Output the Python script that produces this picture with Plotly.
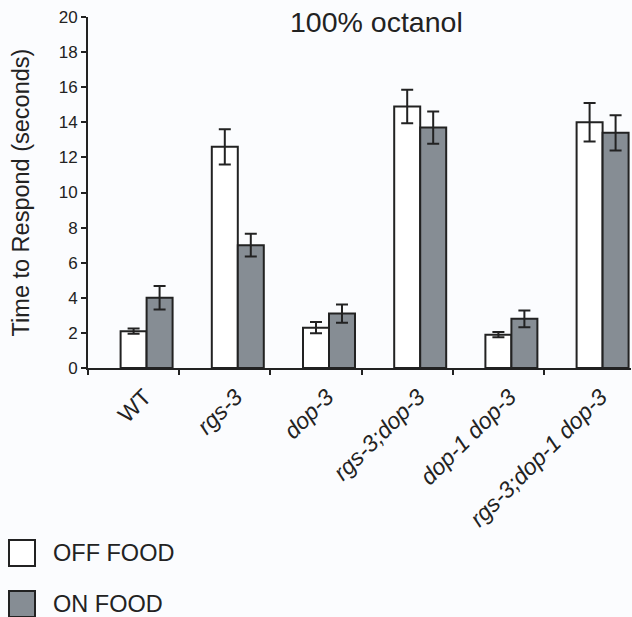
import plotly.graph_objects as go
import numpy as np

# ---- data ----
categories = ["WT", "rgs-3", "dop-3", "rgs-3;dop-3", "dop-1 dop-3", "rgs-3;dop-1 dop-3"]
tick_labels = ["WT", "<i>rgs-3</i>", "<i>dop-3</i>", "<i>rgs-3;dop-3</i>",
               "<i>dop-1 dop-3</i>", "<i>rgs-3;dop-1 dop-3</i>"]
off_food = [2.1, 12.6, 2.3, 14.9, 1.9, 14.0]
off_food_err = [0.15, 1.0, 0.32, 0.95, 0.15, 1.1]
on_food = [4.0, 7.0, 3.1, 13.7, 2.8, 13.4]
on_food_err = [0.67, 0.65, 0.52, 0.92, 0.48, 1.0]
y_ticks = [0, 2, 4, 6, 8, 10, 12, 14, 16, 18, 20]

W, H = 632, 617
ML, MR, MT, MB = 88, 1, 17, 249
PW, PH = W - ML - MR, H - MT - MB

def px_x(p):
    return (p - ML) / PW

def px_y(p):
    return (H - MB - p) / PH

FONT = "Liberation Sans, Arial, sans-serif"
INK = "#222222"
GRAY = "#868d94"
BG = "#fbfcfe"

xpos = np.arange(len(categories))
bw = 0.285

fig = go.Figure()
fig.add_trace(go.Bar(
    x=xpos, y=off_food, width=bw, offset=-bw / 2,
    marker=dict(color="#ffffff", line=dict(color=INK, width=2)),
    error_y=dict(type="data", array=off_food_err, color=INK, thickness=2, width=6),
    name="OFF FOOD", showlegend=False))
fig.add_trace(go.Bar(
    x=xpos, y=on_food, width=bw, offset=bw / 2,
    marker=dict(color=GRAY, line=dict(color=INK, width=2)),
    error_y=dict(type="data", array=on_food_err, color=INK, thickness=2, width=6),
    name="ON FOOD", showlegend=False))

xr = [-0.5, -0.5 + PW / 91.2]
fig.update_layout(
    width=W, height=H,
    margin=dict(l=ML, r=MR, t=MT, b=MB, pad=0),
    paper_bgcolor=BG, plot_bgcolor=BG,
    font=dict(family=FONT, color=INK),
    barmode="overlay",
    xaxis=dict(range=xr, tickmode="array", tickvals=list(xpos - 0.5),
               ticktext=[""] * len(xpos), ticks="outside", ticklen=5,
               tickwidth=2, tickcolor=INK, showline=True, linewidth=2,
               linecolor=INK, showgrid=False, zeroline=False),
    xaxis2=dict(range=xr, overlaying="x", side="bottom", anchor="y",
                tickmode="array", tickvals=list(xpos + 0.12), ticktext=tick_labels,
                tickangle=-45, ticks="", showline=False, showgrid=False,
                zeroline=False, ticklabelstandoff=10,
                tickfont=dict(size=23, family=FONT, color=INK)),
    yaxis=dict(range=[0, 20], tickmode="array", tickvals=y_ticks,
               ticks="outside", ticklen=5, tickwidth=2, tickcolor=INK,
               showline=True, linewidth=2, linecolor=INK, showgrid=False,
               zeroline=False, tickfont=dict(size=17),
               title=dict(text="Time to Respond (seconds)", font=dict(size=23.5),
                          standoff=22)),
    showlegend=False,
)

# dummy trace to activate xaxis2
fig.add_trace(go.Scatter(x=[xr[0]], y=[0], xaxis="x2", mode="markers",
                         marker=dict(opacity=0), hoverinfo="skip", showlegend=False))

fig.add_annotation(text="100% octanol", xref="paper", yref="paper",
                   x=px_x(376), y=px_y(22), xanchor="center", yanchor="middle",
                   showarrow=False, font=dict(size=28.5))

# legend
legend = [("OFF FOOD", "#ffffff", 553), ("ON FOOD", GRAY, 604)]
for label, color, cy in legend:
    fig.add_shape(type="rect", xref="paper", yref="paper",
                  x0=px_x(9), x1=px_x(35), y0=px_y(cy - 13), y1=px_y(cy + 13),
                  fillcolor=color, line=dict(color=INK, width=2))
    fig.add_annotation(text=label, xref="paper", yref="paper",
                       x=px_x(51), y=px_y(cy), xanchor="left", yanchor="middle",
                       showarrow=False, font=dict(size=23.5))

fig.write_html("out.html", config={"displayModeBar": False})

# remove the default page margin so the figure sits at the window's corner
with open("out.html", "r", encoding="utf-8") as f:
    html = f.read()
html = html.replace("<head>", "<head><style>html,body{margin:0;padding:0;overflow:hidden;background:#fbfcfe;}</style>", 1)
with open("out.html", "w", encoding="utf-8") as f:
    f.write(html)
